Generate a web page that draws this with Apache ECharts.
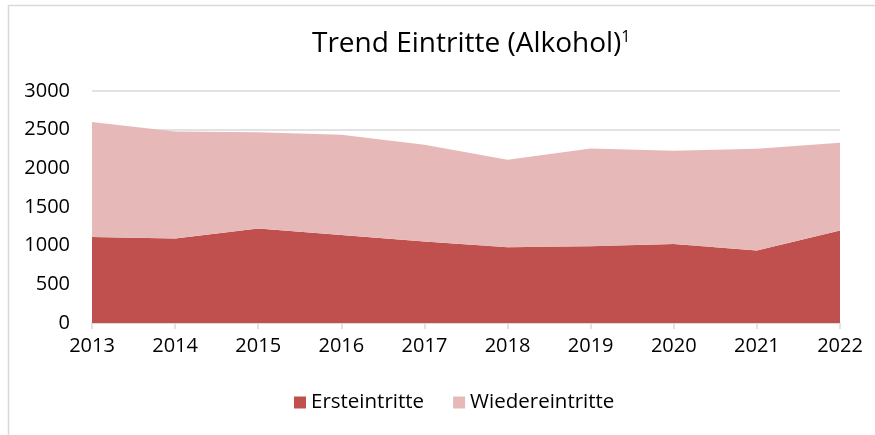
<!DOCTYPE html>
<html>
<head>
<meta charset="utf-8">
<script src="https://cdn.jsdelivr.net/npm/echarts@6/dist/echarts.min.js"></script>
<style>
  html, body { margin: 0; padding: 0; background: #fff; }
</style>
</head>
<body>
<div id="main" style="width: 875px;height:435px;"></div>
<script>
// values
var years = ['2013', '2014', '2015', '2016', '2017', '2018', '2019', '2020', '2021', '2022'];
var ersteintritte = [1112, 1094, 1223, 1138, 1055, 978, 991, 1021, 939, 1197];
var wiedereintritte = [1487, 1383, 1242, 1297, 1250, 1134, 1267, 1207, 1315, 1134];
var yTicks = [0, 500, 1000, 1500, 2000, 2500, 3000];

var fontName = '"Open Sans", sans-serif';
var myChart = echarts.init(document.getElementById('main'));

var option = {
  animation: false,
  backgroundColor: '#fff',
  title: {
    text: 'Trend Eintritte (Alkohol){sup|1}',
    left: 307,
    top: 24,
    textStyle: {
      fontFamily: fontName,
      fontSize: 28,
      fontWeight: 'normal',
      color: '#000',
      rich: {
        sup: { fontFamily: fontName, fontSize: 16, verticalAlign: 'top', padding: [0, 0, 14, 0], color: '#000' }
      }
    }
  },
  graphic: [{
    type: 'rect',
    shape: { x: 8.5, y: 5.5, width: 900, height: 500 },
    style: { fill: 'none', stroke: '#d9d9d9', lineWidth: 1.5 },
    silent: true
  }],
  legend: {
    data: ['Ersteintritte', 'Wiedereintritte'],
    bottom: 17,
    left: 289,
    itemWidth: 12,
    itemHeight: 12,
    itemGap: 29,
    icon: 'rect',
    textStyle: { fontFamily: fontName, fontSize: 20.5, color: '#000' }
  },
  grid: { left: 92, right: 35, top: 91, bottom: 112, containLabel: false },
  xAxis: {
    type: 'category',
    boundaryGap: false,
    data: years,
    axisLine: { lineStyle: { color: '#d9d9d9', width: 1.5 } },
    axisTick: { show: true, length: 6, lineStyle: { color: '#d9d9d9', width: 1.5 } },
    axisLabel: { fontFamily: fontName, fontSize: 20, color: '#000', margin: 13 }
  },
  yAxis: {
    type: 'value',
    min: yTicks[0],
    max: yTicks[yTicks.length - 1],
    interval: 500,
    axisLine: { show: false },
    axisTick: { show: false },
    splitLine: { lineStyle: { color: '#d9d9d9', width: 1.5 } },
    axisLabel: {
      fontFamily: fontName, fontSize: 20, color: '#000', margin: 22,
      formatter: function (v) { return String(v); }
    }
  },
  series: [
    {
      name: 'Ersteintritte',
      type: 'line',
      stack: 'total',
      data: ersteintritte,
      symbol: 'none',
      lineStyle: { width: 0 },
      areaStyle: { color: '#c0504d', opacity: 1 },
      itemStyle: { color: '#c0504d' }
    },
    {
      name: 'Wiedereintritte',
      type: 'line',
      stack: 'total',
      data: wiedereintritte,
      symbol: 'none',
      lineStyle: { width: 0 },
      areaStyle: { color: '#e6b9b8', opacity: 1 },
      itemStyle: { color: '#e6b9b8' }
    }
  ]
};

myChart.setOption(option);
</script>
</body>
</html>
